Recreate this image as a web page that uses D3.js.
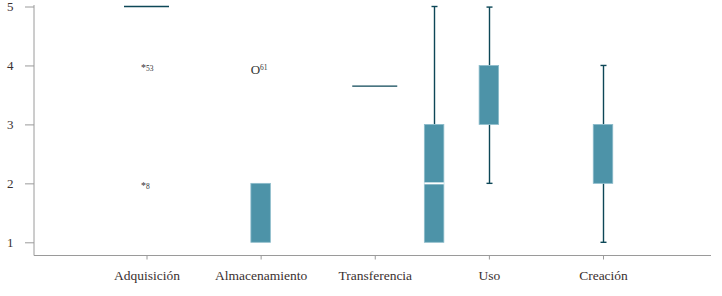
<!DOCTYPE html>
<html>
<head>
<meta charset="utf-8">
<script src="https://cdn.jsdelivr.net/npm/d3@7"></script>
<style>
  body { margin: 0; background: #fff; }
  text { font-family: "Liberation Serif", "DejaVu Serif", serif; }
</style>
</head>
<body>
<script>
// categories on the x axis
const categories = ["Adquisición", "Almacenamiento", "Transferencia", "Uso", "Creación"];
const yTicks = [1, 2, 3, 4, 5];

// boxes: position on the category axis (1..5), quartiles and whiskers
const boxPos   = [2, 3.52, 4, 5];
const boxQ1    = [1, 1, 3, 2];
const boxMed   = [null, 2, null, null];
const boxQ3    = [2, 3, 4, 3];
const boxLow   = [null, 1, 2, 1];
const boxHigh  = [null, 5, 4.99, 4];

// collapsed boxes (drawn as a single median line)
const flatPos = [1, 3];
const flatVal = [5, 3.65];

// outliers
const outPos   = [1, 1, 2];
const outVal   = [4, 2, 4];
const outMark  = ["*", "*", "O"];
const outLabel = ["53", "8", "61"];

const W = 722, H = 296;
const svg = d3.select("body").append("svg").attr("width", W).attr("height", H);

const x = d3.scaleLinear().domain([1, 5]).range([146.5, 603]);
const y = d3.scaleLinear().domain([1, 5]).range([242.3, 6.5]);

const axisColor = "#9a9a9a";
const boxFill = "#4d93a8";
const boxStroke = "#8dbccb";
const whisker = "#0d4757";

// y axis
const yAxis = d3.axisLeft(y).tickValues(yTicks).tickFormat(d3.format("d")).tickSize(9).tickPadding(13);
const gy = svg.append("g").attr("transform", "translate(34,0)").call(yAxis);
gy.select(".domain").remove();
gy.selectAll(".tick line").attr("stroke", axisColor);
gy.selectAll(".tick text").attr("fill", "#3a3030").attr("font-size", 13).attr("text-anchor", "start").attr("x", -27);
svg.append("line").attr("x1", 34).attr("x2", 34).attr("y1", 5).attr("y2", 255.5)
  .attr("stroke", axisColor);

// x axis
const xAxis = d3.axisBottom(x).tickValues(d3.range(1, 6)).tickFormat(i => categories[i - 1]).tickSize(4).tickPadding(11);
const gx = svg.append("g").attr("transform", "translate(0,255.5)").call(xAxis);
gx.select(".domain").remove();
gx.selectAll(".tick line").attr("stroke", axisColor);
gx.selectAll(".tick text").attr("fill", "#3a3030").attr("font-size", 13.5);
svg.append("line").attr("x1", 34).attr("x2", 711).attr("y1", 255.5).attr("y2", 255.5)
  .attr("stroke", axisColor);

const bw = 19.5, cap = 6, sw = 1.4;

// whiskers
boxPos.forEach((p, i) => {
  const cx = Math.round(x(p)) + 0.5;
  if (boxHigh[i] != null) {
    svg.append("line").attr("x1", cx).attr("x2", cx).attr("y1", y(boxHigh[i])).attr("y2", y(boxQ3[i]))
      .attr("stroke", whisker).attr("stroke-width", sw);
    svg.append("line").attr("x1", cx - cap / 2).attr("x2", cx + cap / 2).attr("y1", y(boxHigh[i])).attr("y2", y(boxHigh[i]))
      .attr("stroke", whisker).attr("stroke-width", sw);
  }
  if (boxLow[i] != null && boxLow[i] < boxQ1[i]) {
    svg.append("line").attr("x1", cx).attr("x2", cx).attr("y1", y(boxQ1[i])).attr("y2", y(boxLow[i]))
      .attr("stroke", whisker).attr("stroke-width", sw);
    svg.append("line").attr("x1", cx - cap / 2).attr("x2", cx + cap / 2).attr("y1", y(boxLow[i])).attr("y2", y(boxLow[i]))
      .attr("stroke", whisker).attr("stroke-width", sw);
  }
});

// boxes
svg.selectAll("rect.box").data(boxPos).enter().append("rect")
  .attr("class", "box")
  .attr("x", d => x(d) - bw / 2)
  .attr("width", bw)
  .attr("y", (d, i) => y(boxQ3[i]))
  .attr("height", (d, i) => y(boxQ1[i]) - y(boxQ3[i]))
  .attr("fill", boxFill)
  .attr("stroke", boxStroke)
  .attr("stroke-width", 0.8);

// medians
boxPos.forEach((p, i) => {
  if (boxMed[i] == null) return;
  svg.append("line").attr("x1", x(p) - bw / 2).attr("x2", x(p) + bw / 2)
    .attr("y1", y(boxMed[i])).attr("y2", y(boxMed[i]))
    .attr("stroke", "#fff").attr("stroke-width", 2);
});

// collapsed boxes
svg.selectAll("line.flat").data(flatPos).enter().append("line")
  .attr("class", "flat")
  .attr("x1", d => x(d) - 22.5)
  .attr("x2", d => x(d) + 22.5)
  .attr("y1", (d, i) => y(flatVal[i]))
  .attr("y2", (d, i) => y(flatVal[i]))
  .attr("stroke", whisker).attr("stroke-width", sw);

// outliers
outPos.forEach((p, i) => {
  const big = outMark[i] === "O";
  const t = svg.append("text")
    .attr("x", x(p) - (big ? 10 : 5.5))
    .attr("y", y(outVal[i]) + (big ? 9 : 6))
    .attr("fill", "#333");
  t.append("tspan").attr("font-size", big ? 13 : 10).text(outMark[i]);
  t.append("tspan").attr("font-size", 7.5).attr("dy", big ? -4 : 0).text(outLabel[i]);
});
</script>
</body>
</html>
